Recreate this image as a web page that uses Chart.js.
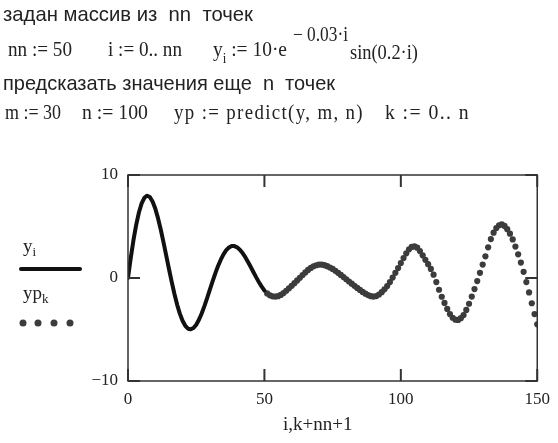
<!DOCTYPE html>
<html>
<head>
<meta charset="utf-8">
<script src="https://cdn.jsdelivr.net/npm/chart.js@4.4.1/dist/chart.umd.min.js"></script>
<style>
  body { margin: 0; background: #fff; }
  #wrap { position: relative; width: 558px; height: 443px; overflow: hidden; background: #fff; }
  #c { position: absolute; left: 0; top: 0; }
  .t { position: absolute; white-space: pre; color: #222; line-height: 1; transform-origin: 0 0; }
  .ru { font-family: "Liberation Sans", Arial, sans-serif; font-size: 21px; }
  .m { font-family: "Liberation Serif", "Times New Roman", serif; font-size: 21px; }
  .m sub { font-size: 14px; vertical-align: -7px; }
  .lg { font-size: 19px; }
  .lg sub { font-size: 13px; vertical-align: -4px; }
  .ex { font-size: 20px; }
  .sp { letter-spacing: 1.5px; }
</style>
</head>
<body>
<div id="wrap">
  <canvas id="c" width="558" height="443"></canvas>

  <div class="t ru" data-w="250" style="left:3px; top:3px;">задан массив из  nn  точек</div>
  <div class="t m" data-w="64" style="left:8px; top:39px;">nn := 50</div>
  <div class="t m" data-w="74" style="left:108px; top:39px;">i := 0.. nn</div>
  <div class="t m" data-w="74" style="left:213px; top:39px;">y<sub>i</sub> := 10·e</div>
  <div class="t m ex" data-w="55" style="left:293px; top:24px;">− 0.03·i</div>
  <div class="t m" data-w="68" style="left:350px; top:42px;">sin(0.2·i)</div>
  <div class="t ru" data-w="332" style="left:3px; top:72px;">предсказать значения еще  n  точек</div>
  <div class="t m" data-w="56" style="left:5px; top:102px;">m := 30</div>
  <div class="t m" data-w="66" style="left:82px; top:102px;">n := 100</div>
  <div class="t m sp" data-w="190" style="left:174px; top:102px;">yp := predict(y, m, n)</div>
  <div class="t m sp" data-w="85" style="left:385px; top:102px;">k := 0.. n</div>

  <div class="t m lg" style="left:23px; top:236px;">y<sub>i</sub></div>
  <div class="t m lg" style="left:23px; top:283px;">yp<sub>k</sub></div>
  <div class="t m lg" style="left:283px; top:414px;">i,k+nn+1</div>
</div>

<script>
// squeeze the Mathcad text lines to the widths seen in the picture
document.querySelectorAll('.t[data-w]').forEach(el => {
  const s = +el.dataset.w / el.getBoundingClientRect().width;
  el.style.transform = 'scaleX(' + s + ')';
});

// first nn+1 values, i = 0..50
const nn = 50;
const yi = [
  0, 1.93, 3.67, 5.16, 6.36, 7.24, 7.79, 7.99, 7.86, 7.43, 6.74,
  5.81, 4.71, 3.49, 2.20, 0.90, -0.36, -1.53, -2.58, -3.46, -4.15,
  -4.64, -4.92, -4.98, -4.85, -4.53, -4.05, -3.44, -2.73, -1.95, -1.14,
  -0.33, 0.45, 1.16, 1.78, 2.30, 2.70, 2.96, 3.10, 3.10, 2.98,
  2.75, 2.42, 2.02, 1.56, 1.07, 0.56, 0.06, -0.41, -0.84, -1.21
];

// predicted values, k = 0..100, plotted at k+nn+1
const yp = [
  -1.5, -1.68, -1.78, -1.8, -1.76, -1.64, -1.46, -1.24, -1.0, -0.76,
  -0.5, -0.24, 0.02, 0.28, 0.54, 0.78, 0.98, 1.14, 1.24, 1.3,
  1.3, 1.25, 1.15, 1.02, 0.88, 0.7, 0.5, 0.3, 0.09, -0.12,
  -0.34, -0.55, -0.76, -0.96, -1.16, -1.35, -1.52, -1.66, -1.76, -1.8,
  -1.75, -1.6, -1.38, -1.1, -0.78, -0.4, 0.04, 0.5, 0.96, 1.45,
  1.94, 2.4, 2.78, 3.02, 3.08, 2.94, 2.62, 2.2, 1.76, 1.34,
  0.88, 0.32, -0.4, -1.14, -1.82, -2.42, -3.0, -3.5, -3.86, -4.05,
  -4.07, -3.9, -3.6, -3.1, -2.5, -1.8, -1.08, -0.3, 0.5, 1.3,
  2.1, 2.98, 3.78, 4.4, 4.85, 5.12, 5.2, 5.06, 4.74, 4.3,
  3.75, 3.05, 2.3, 1.5, 0.6, -0.4, -1.4, -2.45, -3.5, -4.5,
  -5.4
];

const xTicks = [0, 50, 100, 150];
const yTicks = [-10, 0, 10];

const lineColor = '#111';
const dotColor = '#3c3c3c';

const frame = {
  id: 'frame',
  afterDatasetsDraw(chart) {
    const { ctx, chartArea: a, scales: { x, y } } = chart;
    ctx.save();
    ctx.strokeStyle = '#333';
    ctx.lineWidth = 1.5;
    ctx.strokeRect(a.left, a.top, a.right - a.left, a.bottom - a.top);
    ctx.lineWidth = 2;
    const seg = (x1, y1, x2, y2) => { ctx.beginPath(); ctx.moveTo(x1, y1); ctx.lineTo(x2, y2); ctx.stroke(); };
    xTicks.forEach(v => {
      const px = x.getPixelForValue(v);
      seg(px, a.bottom, px, a.bottom - 12);
      seg(px, a.top, px, a.top + 12);
    });
    yTicks.forEach(v => {
      const py = y.getPixelForValue(v);
      seg(a.left, py, a.left + 12, py);
      seg(a.right, py, a.right - 12, py);
    });

    // legend samples
    ctx.strokeStyle = lineColor;
    ctx.lineWidth = 4;
    ctx.lineCap = 'round';
    seg(21, 269, 80, 269);
    ctx.fillStyle = dotColor;
    [23, 38, 54, 70].forEach(cx => {
      ctx.beginPath(); ctx.arc(cx, 323, 3.5, 0, Math.PI * 2); ctx.fill();
    });
    ctx.restore();
  }
};

const tickFont = { family: '"Liberation Serif", "Times New Roman", serif', size: 17 };

new Chart(document.getElementById('c'), {
  type: 'scatter',
  data: {
    datasets: [
      {
        label: 'y',
        data: yi.map((v, i) => ({ x: i, y: v })),
        showLine: true,
        borderColor: lineColor,
        borderWidth: 4,
        borderJoinStyle: 'round',
        borderCapStyle: 'round',
        pointRadius: 0,
        order: 1
      },
      {
        label: 'yp',
        data: yp.map((v, k) => ({ x: k + nn + 1, y: v })),
        showLine: false,
        backgroundColor: dotColor,
        borderWidth: 0,
        pointRadius: 3.1,
        order: 2
      }
    ]
  },
  options: {
    responsive: false,
    animation: false,
    devicePixelRatio: 1,
    events: [],
    layout: { padding: { top: 175, right: 17, left: 0, bottom: 0 } },
    plugins: { legend: { display: false }, tooltip: { enabled: false } },
    scales: {
      x: {
        type: 'linear', min: 0, max: 150,
        grid: { display: false, drawTicks: false },
        border: { display: false },
        ticks: { stepSize: 50, font: tickFont, color: '#222', padding: 8, maxRotation: 0 },
        afterFit: s => { s.height = 62; }
      },
      y: {
        type: 'linear', min: -10, max: 10,
        grid: { display: false, drawTicks: false },
        border: { display: false },
        ticks: {
          stepSize: 10, font: tickFont, color: '#222', padding: 10,
          callback: v => v < 0 ? '\u2212' + Math.abs(v) : String(v)
        },
        afterFit: s => { s.width = 128; }
      }
    }
  },
  plugins: [frame]
});
</script>
</body>
</html>
